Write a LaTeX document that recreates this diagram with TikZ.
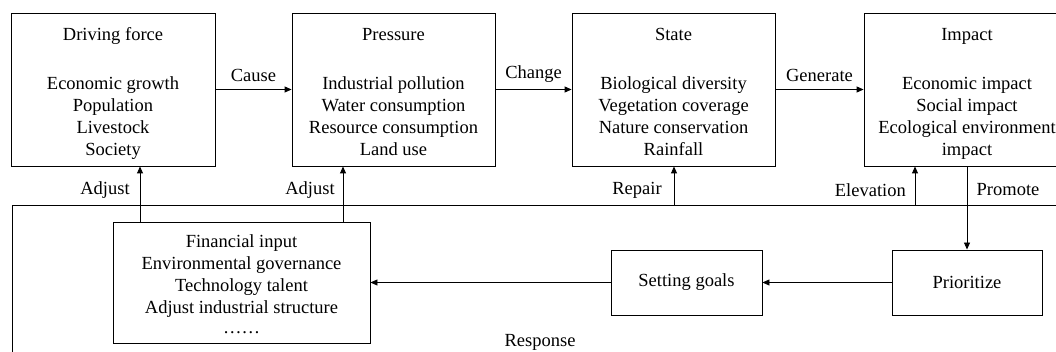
\documentclass[tikz,border=0pt]{standalone}
\usepackage{fontspec}
\setmainfont{Liberation Serif}
\usetikzlibrary{arrows.meta}
\tikzset{
  box/.style={draw, line width=0.9pt, rectangle, inner sep=0pt, align=center,
    font=\fontsize{18.5}{22}\selectfont},
  lbl/.style={inner sep=0pt, font=\fontsize{18.5}{22}\selectfont},
  arr/.style={line width=0.9pt, -{Triangle[length=7pt,width=6pt]}},
  ln/.style={line width=0.9pt}
}
\begin{document}
\begin{tikzpicture}[x=1pt,y=-1pt]
\useasboundingbox (0,0) rectangle (1056,352);
\clip (0,0) rectangle (1056,352);
% response frame
\node[draw, line width=0.9pt, anchor=north west, minimum width=1080pt, minimum height=180pt, inner sep=0pt] (resp) at (12,205) {};
\node[lbl] (resplbl) at (540,342) {Response};
% top boxes
\node[box, minimum width=204pt, minimum height=153pt] (df) at (113,89.5)
  {Driving force\\[27pt]Economic growth\\Population\\Livestock\\Society\\[-26pt]};
\node[box, minimum width=203pt, minimum height=153pt] (pr) at (393.5,89.5)
  {Pressure\\[27pt]Industrial pollution\\Water consumption\\Resource consumption\\Land use\\[-26pt]};
\node[box, minimum width=203pt, minimum height=153pt] (st) at (673.5,89.5)
  {State\\[27pt]Biological diversity\\Vegetation coverage\\Nature conservation\\Rainfall\\[-26pt]};
\node[box, minimum width=206pt, minimum height=153pt] (imp) at (967,89.5)
  {Impact\\[27pt]Economic impact\\Social impact\\Ecological environment\\impact\\[-26pt]};
% bottom boxes
\node[box, minimum width=257pt, minimum height=121pt] (fin) at (241.5,282.5)
  {Financial input\\Environmental governance\\Technology talent\\Adjust industrial structure\\[-2pt]……\\[-26pt]};
\node[box, minimum width=151pt, minimum height=65pt] (sg) at (686.5,282.5) {Setting goals};
\node[box, minimum width=150pt, minimum height=65pt] (pri) at (967,282.5) {Prioritize};
% x positions
\coordinate (xa) at (140,0);
\coordinate (xb) at (343,0);
\coordinate (xr) at (674,0);
\coordinate (xe) at (915,0);
% horizontal arrows
\draw[arr] (df.east) -- node[lbl, above=7pt] (lc) {Cause} (pr.west);
\draw[arr] (pr.east) -- node[lbl, above=7pt] (lch) {Change} (st.west);
\draw[arr] (st.east) -- node[lbl, above=7pt] (lg) {Generate} (imp.west);
% vertical arrows
\draw[arr] (fin.north -| xa) -- (df.south -| xa);
\draw[arr] (fin.north -| xb) -- (pr.south -| xb);
\draw[arr] (resp.north -| xr) -- (st.south -| xr);
\draw[arr] (resp.north -| xe) -- (imp.south -| xe);
\draw[arr] (imp.south) -- (pri.north);
\draw[arr] (pri.west) -- (sg.east);
\draw[arr] (sg.west) -- (fin.east);
% labels
\node[lbl] (la1) at (105,190) {Adjust};
\node[lbl] (la2) at (310,190) {Adjust};
\node[lbl] (lr) at (637,190) {Repair};
\node[lbl, anchor=east] (le) at (906,190) {Elevation};
\node[lbl] (lp) at (1008,190) {Promote};
\end{tikzpicture}
\end{document}
